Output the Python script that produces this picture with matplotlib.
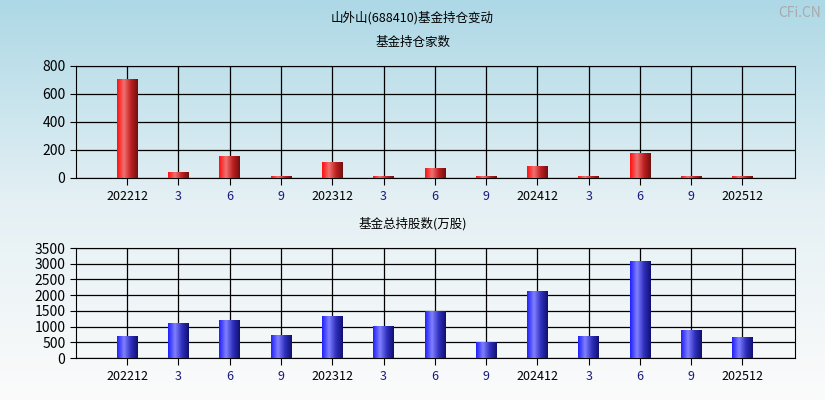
import numpy as np
import matplotlib.pyplot as plt
import matplotlib
from matplotlib.colors import LinearSegmentedColormap

matplotlib.rcParams['font.family'] = ['Noto Sans CJK SC', 'DejaVu Sans']
matplotlib.rcParams['font.size'] = 9

labels = ["202212", "3", "6", "9", "202312", "3", "6", "9", "202412", "3", "6", "9", "202512"]
fund_count = [700, 40, 155, 12, 110, 12, 70, 12, 85, 12, 175, 10, 12]
fund_shares = [690, 1100, 1200, 720, 1310, 990, 1480, 490, 2130, 690, 3070, 880, 660]

fig = plt.figure(figsize=(8.25, 4), dpi=100)

# background gradient: light blue top -> near white bottom
bg = fig.add_axes([0, 0, 1, 1], zorder=-10)
grad = np.linspace(0, 1, 256).reshape(-1, 1)
bg_cmap = LinearSegmentedColormap.from_list("bg", ["#add8e6", "#e4f0f4", "#fbfbfb"])
bg.imshow(grad, aspect='auto', cmap=bg_cmap, extent=[0, 1, 0, 1])
bg.axis('off')

fig.text(0.5, 0.955, "山外山(688410)基金持仓变动", ha='center', va='center', fontsize=9)
fig.text(0.5, 0.894, "基金持仓家数", ha='center', va='center', fontsize=9)
fig.text(0.5, 0.44, "基金总持股数(万股)", ha='center', va='center', fontsize=9)
fig.text(0.995, 0.985, "CFi.CN", ha='right', va='top', fontsize=10, color='#aaaaaa')

red_cmap = LinearSegmentedColormap.from_list("r", ["#ff1010", "#f07070", "#c02020", "#701010"])
blue_cmap = LinearSegmentedColormap.from_list("b", ["#2020ff", "#8080ff", "#3030c0", "#101070"])


def draw(ax, values, cmap, ymax, step):
    x = np.arange(len(values))
    w = 0.4
    ax.set_xlim(-1, 13.03)
    ax.set_ylim(0, ymax)
    hgrad = np.linspace(0, 1, 64).reshape(1, -1)
    for xi, v in zip(x, values):
        ax.imshow(hgrad, cmap=cmap, aspect='auto', extent=[xi - w / 2, xi + w / 2, 0, v], zorder=3)
    ax.set_xticks(x)
    ax.set_xticklabels(labels)
    for lab, t in zip(labels, ax.get_xticklabels()):
        t.set_color('black' if len(lab) > 2 else '#1a1a80')
    ax.set_yticks(np.arange(0, ymax + 1, step))
    ax.grid(True, color='black', linewidth=0.9)
    ax.set_axisbelow(True)
    ax.set_facecolor('none')
    ax.tick_params(axis='x', length=5, direction='out')
    ax.tick_params(axis='y', length=4, labelsize=10)
    for s in ax.spines.values():
        s.set_color('black')


ax1 = fig.add_axes([0.092, 0.555, 0.872, 0.28])
draw(ax1, fund_count, red_cmap, 800, 200)
ax2 = fig.add_axes([0.092, 0.105, 0.872, 0.275])
draw(ax2, fund_shares, blue_cmap, 3500, 500)

fig.savefig("out.png", dpi=100)
